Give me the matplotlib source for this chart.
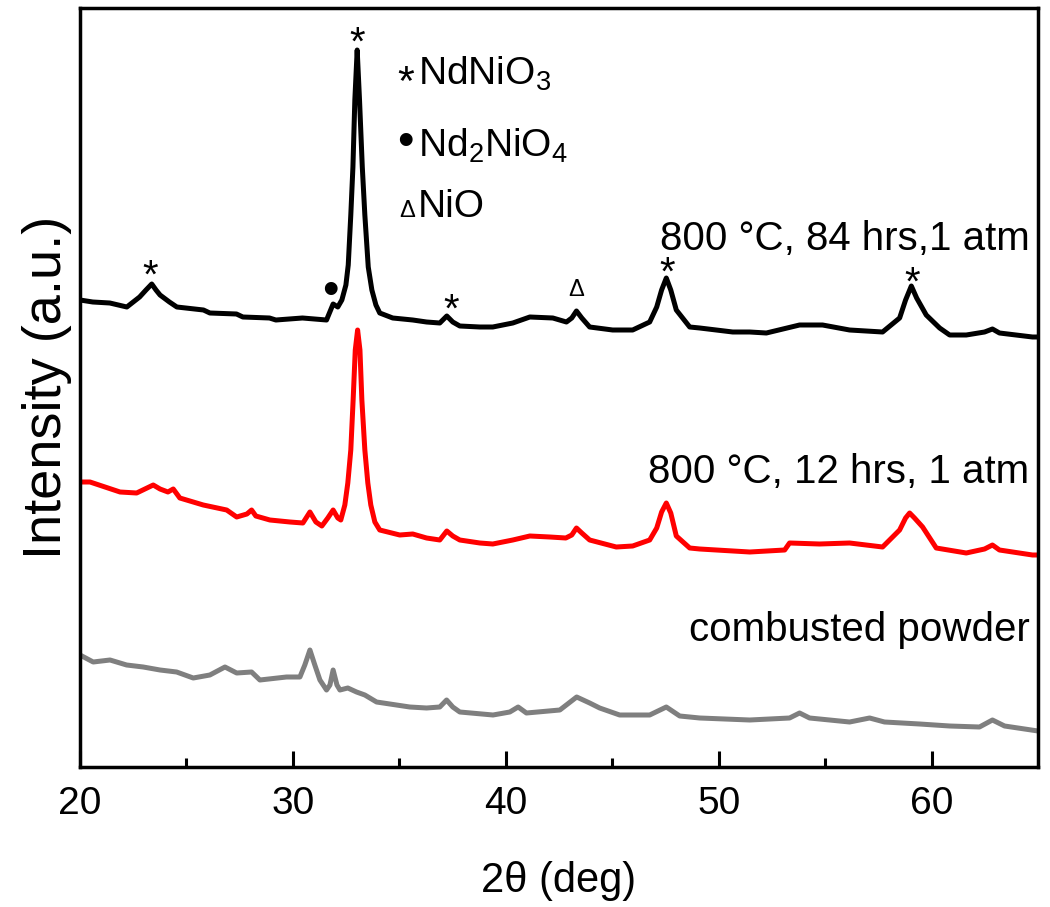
import matplotlib
matplotlib.use("Agg")
import matplotlib.pyplot as plt
import numpy as np

plt.rcParams.update(
    {
        "font.family": ["Liberation Sans", "DejaVu Sans"],
        "mathtext.fontset": "custom",
        "mathtext.rm": "Liberation Sans",
        "mathtext.it": "Liberation Sans:italic",
        "axes.linewidth": 2.5,
    }
)

# XRD patterns (2theta in deg, intensity in a.u. with offsets)
tt_84h = [20.0, 20.6, 21.4, 22.2, 22.8, 23.1, 23.37, 23.57, 23.76, 24.2, 24.55, 25.8, 26.1,
          27.35, 27.65, 28.9, 29.2, 30.45, 31.58, 31.89, 32.11, 32.3, 32.49, 32.6, 32.72,
          32.82, 32.91, 33.02, 33.13, 33.26, 33.38, 33.54, 33.71, 33.9, 34.08, 34.69, 35.63,
          36.28, 36.9, 37.23, 37.51, 37.84, 38.78, 39.39, 40.33, 41.13, 42.21, 42.85, 43.1,
          43.32, 43.57, 43.94, 45.02, 45.96, 46.76, 47.09, 47.32, 47.54, 47.75, 48.01, 48.64,
          49.11, 50.66, 51.46, 52.24, 53.8, 54.12, 54.88, 56.15, 57.7, 58.5, 58.78, 59.05,
          59.3, 59.75, 60.38, 60.85, 61.63, 62.49, 62.86, 63.19, 64.74, 65.0]
int_84h = [467, 465, 464, 460, 470, 477, 483, 477, 472, 465, 460, 457, 454,
           453, 450, 449, 447, 449, 447, 463, 460, 467, 482, 502, 552,
           600, 667, 717, 667, 600, 552, 500, 477, 462, 454, 449, 447,
           445, 444, 451, 445, 441, 440, 440, 444, 450, 449, 445, 449,
           456, 449, 440, 437, 437, 445, 460, 477, 489, 477, 457, 440,
           439, 435, 435, 434, 442, 442, 442, 437, 435, 449, 467, 481,
           469, 452, 439, 432, 432, 435, 438, 434, 430, 430]

tt_12h = [20.0, 20.47, 21.88, 22.66, 23.05, 23.44, 23.76, 24.13, 24.38, 24.69, 25.79, 26.89,
          27.36, 27.84, 28.06, 28.26, 28.92, 29.86, 30.47, 30.8, 31.08, 31.36, 31.64, 31.89,
          32.11, 32.25, 32.44, 32.58, 32.72, 32.83, 32.93, 33.04, 33.15, 33.24, 33.38, 33.52,
          33.66, 33.85, 34.08, 35.02, 35.63, 36.28, 36.9, 37.23, 37.51, 37.84, 38.78, 39.39,
          40.33, 41.13, 42.07, 42.82, 43.1, 43.32, 43.57, 43.94, 45.19, 45.96, 46.76, 47.09,
          47.32, 47.54, 47.75, 48.01, 48.64, 49.11, 51.46, 53.1, 53.33, 54.74, 56.15, 57.7,
          58.5, 58.78, 58.97, 59.2, 59.58, 60.22, 61.63, 62.49, 62.86, 63.19, 64.74, 65.0]
int_12h = [285, 285, 275, 274, 278, 282, 278, 275, 278, 269, 262, 257,
           250, 253, 257, 251, 247, 245, 244, 255, 245, 241, 249, 257,
           249, 247, 262, 284, 317, 367, 417, 437, 417, 367, 317, 284,
           262, 245, 237, 232, 233, 229, 227, 236, 231, 227, 224, 223,
           227, 231, 230, 229, 232, 239, 234, 227, 220, 221, 227, 239,
           255, 264, 254, 231, 219, 218, 215, 217, 224, 223, 224, 220,
           237, 249, 254, 249, 240, 219, 214, 218, 222, 217, 212, 212]

tt_powder = [20.0, 20.62, 21.41, 22.19, 22.97, 23.76, 24.54, 25.32, 26.1, 26.81, 27.36, 28.06,
             28.45, 29.7, 30.33, 30.56, 30.8, 31.03, 31.27, 31.58, 31.74, 31.89, 32.07, 32.21,
             32.58, 32.99, 33.38, 33.93, 35.49, 36.28, 36.9, 37.22, 37.51, 37.84, 39.4, 40.19,
             40.58, 40.97, 42.54, 43.33, 43.94, 44.41, 45.35, 46.76, 47.54, 48.17, 49.11, 51.46,
             53.33, 53.8, 54.27, 56.15, 57.09, 57.79, 59.44, 60.85, 62.25, 62.86, 63.43, 65.0]
int_powder = [112, 105, 107, 102, 100, 97, 95, 89, 92, 100, 94, 95,
              87, 90, 90, 102, 117, 102, 87, 77, 82, 97, 82, 77,
              79, 75, 72, 65, 60, 59, 60, 67, 60, 55, 52, 55,
              60, 54, 57, 70, 64, 59, 52, 52, 60, 51, 49, 47,
              49, 54, 49, 45, 49, 45, 43, 41, 40, 47, 41, 36]

# phase markers above peaks of the 84 hrs pattern
star_tt = [23.3, 33.02, 37.45, 47.58, 59.08]
star_int = [479, 712, 445, 482, 472]
dot_tt, dot_int = 31.77, 463
delta_tt, delta_int = 43.32, 471

labels = ["800 \u00b0C, 84 hrs,1 atm", "800 \u00b0C, 12 hrs, 1 atm", "combusted powder"]
label_int = [517, 284, 126]

fig = plt.figure(figsize=(10.5, 9.07), dpi=100)
ax = fig.add_axes([80 / 1050, 140 / 907, 958 / 1050, 759 / 907])

ax.plot(tt_84h, int_84h, color="black", lw=3.6, solid_joinstyle="round")
ax.plot(tt_12h, int_12h, color="#ff0000", lw=3.6, solid_joinstyle="round")
ax.plot(tt_powder, int_powder, color="#7f7f7f", lw=3.6, solid_joinstyle="round")

for x, y in zip(star_tt, star_int):
    ax.text(x, y, "*", ha="center", va="baseline", fontsize=29)
ax.text(dot_tt, dot_int, "\u2022", ha="center", va="baseline", fontsize=34)
ax.text(delta_tt, delta_int, "\u0394", ha="center", va="baseline", fontsize=17)

for s, y in zip(labels, label_int):
    ax.text(64.6, y, s, ha="right", va="baseline", fontsize=29)

# phase legend
leg_x = 35.87
ax.text(35.3, 672, "*", ha="center", va="baseline", fontsize=31)
ax.text(leg_x, 682, r"NdNiO$_3$", ha="left", va="baseline", fontsize=28)
ax.text(35.3, 612, "\u2022", ha="center", va="baseline", fontsize=34)
ax.text(leg_x, 610, r"Nd$_2$NiO$_4$", ha="left", va="baseline", fontsize=28)
ax.text(35.35, 550, "\u0394", ha="center", va="baseline", fontsize=17)
ax.text(leg_x, 550, "NiO", ha="left", va="baseline", fontsize=28)

ax.set_xlim(20, 65)
ax.set_ylim(0, 759)
ax.set_xticks([20, 30, 40, 50, 60])
ax.set_xticks([25, 35, 45, 55], minor=True)
ax.set_yticks([])
ax.tick_params(axis="x", which="both", direction="in", top=False, width=2.2,
               labelsize=28, pad=14)
ax.tick_params(axis="x", which="major", length=11.5)
ax.tick_params(axis="x", which="minor", length=6.5)

ax.set_xlabel("2\u03b8 (deg)", fontsize=30, labelpad=28)
ax.set_ylabel("Intensity (a.u.)", fontsize=39, labelpad=6)

fig.savefig("out.png", dpi=100)
